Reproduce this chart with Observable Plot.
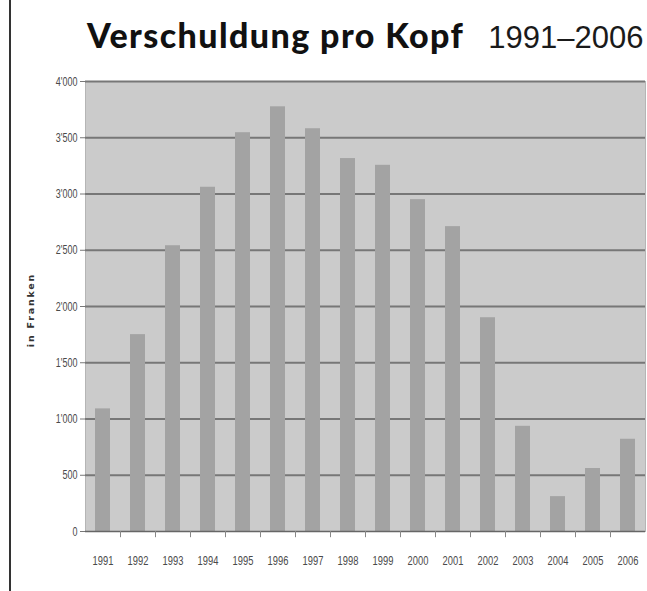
<!DOCTYPE html>
<html>
<head>
<meta charset="utf-8">
<script src="https://cdn.jsdelivr.net/npm/d3@7"></script>
<script src="https://cdn.jsdelivr.net/npm/@observablehq/plot@0.6"></script>
<style>
  html, body { margin: 0; padding: 0; background: #fff; }
  #wrap { position: relative; width: 647px; height: 591px; overflow: hidden; background: #fff; }
  #border { position: absolute; left: 9px; top: 0; width: 2px; height: 591px; background: #333; }
  #title { position: absolute; left: 87px; top: 15px; white-space: nowrap; font-family: Lato, "Open Sans", sans-serif; color: #111; line-height: 40px; }
  #title .b { font-weight: 900; font-size: 34px; letter-spacing: 1.4px; }
  #title .r { font-weight: 400; font-size: 31px; margin-left: 24px; font-family: "Liberation Sans", Arial, sans-serif; color: #1a1a1a; }
  #chart { position: absolute; left: 0; top: 60px; }
</style>
</head>
<body>
<div id="wrap">
  <div id="border"></div>
  <div id="title"><span class="b">Verschuldung pro Kopf</span><span class="r">1991–2006</span></div>
  <div id="chart"></div>
</div>
<script>
const years = ["1991","1992","1993","1994","1995","1996","1997","1998","1999","2000","2001","2002","2003","2004","2005","2006"];
const debt = [1090, 1750, 2540, 3060, 3545, 3775, 3580, 3315, 3255, 2950, 2710, 1900, 935, 310, 560, 820];
const yTicks = [0, 500, 1000, 1500, 2000, 2500, 3000, 3500, 4000];
const yTickLabels = ["0", "500", "1'000", "1'500", "2'000", "2'500", "3'000", "3'500", "4'000"];
const yLabel = "in Franken";

const data = years.map((y, i) => ({year: y, value: debt[i]}));
const font = "'Liberation Sans', Arial, sans-serif";

const chart = Plot.plot({
  width: 647,
  height: 520,
  marginLeft: 85,
  marginRight: 2,
  marginTop: 21,
  marginBottom: 49,
  style: {fontFamily: font, fontSize: "12px", color: "#555", background: "transparent"},
  x: {domain: years, paddingInner: 0.57, paddingOuter: 0.285, align: 0.5, label: null},
  y: {domain: [0, 4000], label: null},
  marks: [
    Plot.frame({fill: "#cbcbcb", stroke: "#b5b5b5"}),
    Plot.ruleY(yTicks.slice(1), {stroke: "#777", strokeWidth: 2}),
    Plot.barY(data, {x: "year", y: "value", fill: "#a3a3a3"}),
    Plot.ruleY([0], {stroke: "#666", strokeWidth: 1.5}),
    Plot.axisY({ticks: yTicks, tickFormat: (d) => yTickLabels[yTicks.indexOf(d)], tickSize: 5, tickPadding: 3, stroke: "#777", fill: "#4a4a4a", fontSize: 12.5, label: null}),
    Plot.axisX({tickSize: 0, tickPadding: 24, fill: "#4a4a4a", fontSize: 13, label: null}),
    Plot.ruleX(years.slice(0, -1), {x: (d) => d, dx: 17.5, y1: 0, y2: -55, stroke: "#888", strokeWidth: 1})
  ]
});
document.getElementById("chart").appendChild(chart);

const svg = d3.select(chart);
// condense the tick labels horizontally, like the narrow font of the original
svg.selectAll("g[aria-label='x-axis tick label'] text, g[aria-label='y-axis tick label'] text").each(function() {
  const w = this.getComputedTextLength();
  if (w > 0) {
    this.setAttribute("textLength", (w * 0.72).toFixed(1));
    this.setAttribute("lengthAdjust", "spacingAndGlyphs");
  }
});

svg.append("text")
  .attr("transform", "translate(34,250) rotate(-90)")
  .attr("text-anchor", "middle")
  .attr("font-family", "'DejaVu Sans', sans-serif")
  .attr("font-weight", "bold")
  .attr("font-size", 9.5)
  .attr("letter-spacing", "1.8px")
  .attr("fill", "#333")
  .text(yLabel);
</script>
</body>
</html>
